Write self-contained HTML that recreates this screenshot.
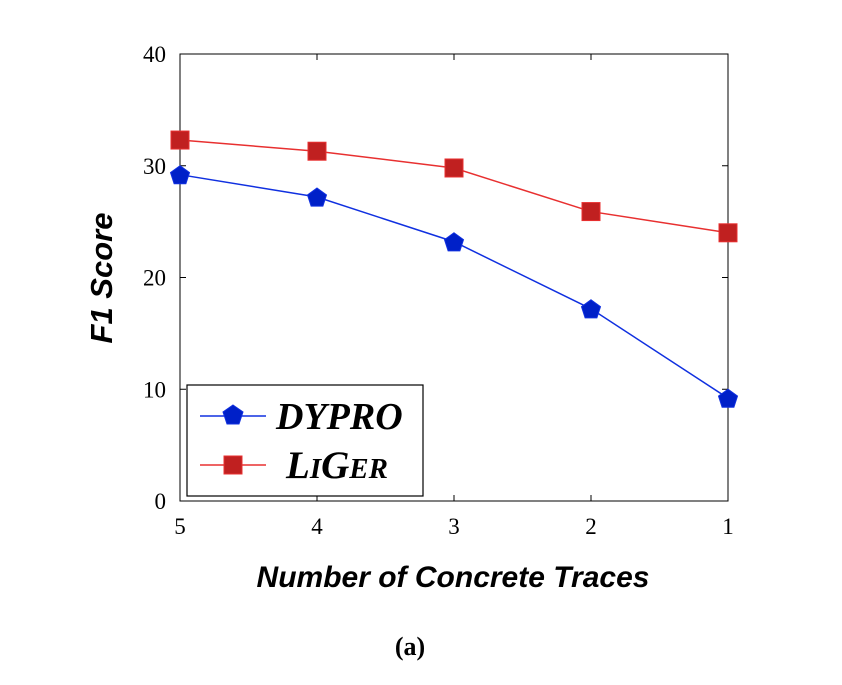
<!DOCTYPE html>
<html><head><meta charset="utf-8"><style>
body{margin:0;background:#fff;width:842px;height:680px;overflow:hidden}
text{font-family:"Liberation Serif",serif}
</style></head><body>
<svg width="842" height="680" id="chart">
<rect x="180" y="54" width="548" height="447" fill="none" stroke="#000" stroke-width="1"/>
<g id="grid"></g>
<g id="ticks"></g>
<g id="series"></g>
<text x="112" y="278" transform="rotate(-90 112 278)" text-anchor="middle" font-size="31" font-weight="bold" font-style="italic" style="font-family:'Liberation Sans',sans-serif">F1 Score</text>
<text x="453" y="587" text-anchor="middle" font-size="30" font-weight="bold" font-style="italic" style="font-family:'Liberation Sans',sans-serif">Number of Concrete Traces</text>
<text x="410" y="655" text-anchor="middle" font-size="26" font-weight="bold">(a)</text>
<g>
<rect x="187" y="385" width="236" height="111" fill="#fff" stroke="#000" stroke-width="1.2"/>
<line x1="200" y1="416" x2="266" y2="416" stroke="#1030e0" stroke-width="1.5"/>
<polygon points="233,405 243,412 239,424 227,424 223,412" fill="#0020c8" stroke="#1030e0"/>
<text x="276" y="429" font-size="38" font-weight="bold" font-style="italic">DYPRO</text>
<line x1="200" y1="465" x2="266" y2="465" stroke="#e83030" stroke-width="1.5"/>
<rect x="224" y="456" width="18" height="18" fill="#c02020" stroke="#e83030"/>
<text x="286" y="478" font-size="39" font-weight="bold" font-style="italic">L<tspan font-size="29">I</tspan>G<tspan font-size="29">ER</tspan></text>
</g>
</svg>
<script>
const categories=["5","4","3","2","1"];
const dypro=[29.2,27.2,23.2,17.2,9.2];
const liger=[32.3,31.3,29.8,25.9,24.0];
const yTicks=[0,10,20,30,40];
const NS="http://www.w3.org/2000/svg";
const x=i=>180+i*(548/(categories.length-1));
const y=v=>501-v*(447/40);
function mk(t,a,p){const e=document.createElementNS(NS,t);for(const k in a)e.setAttribute(k,a[k]);p.appendChild(e);return e;}
const grid=document.getElementById('grid'),ticks=document.getElementById('ticks'),ser=document.getElementById('series');
yTicks.forEach(v=>{
 const l=mk('line',{x1:180,x2:186,y1:y(v),y2:y(v),stroke:'#000'},ticks);
 
 
 mk('line',{x1:722,x2:728,y1:y(v),y2:y(v),stroke:'#000'},ticks);
 const t=mk('text',{x:166,y:y(v)+8,'text-anchor':'end','font-size':23},ticks);t.textContent=v;
 
 
});
categories.forEach((c,i)=>{
 mk('line',{x1:x(i),x2:x(i),y1:501,y2:495,stroke:'#000'},ticks);
 mk('line',{x1:x(i),x2:x(i),y1:54,y2:60,stroke:'#000'},ticks);
 const t=mk('text',{x:x(i),y:534,'text-anchor':'middle','font-size':23},ticks);t.textContent=c;
 
 
});
function line(vals,col,name){
 const p=mk('polyline',{points:vals.map((v,i)=>x(i)+','+y(v)).join(' '),fill:'none',stroke:col,'stroke-width':1.5},ser);
 
 
}
line(liger,'#e83030','liger');
line(dypro,'#1030e0','dypro');
liger.forEach((v,i)=>{
 const r=mk('rect',{x:x(i)-9,y:y(v)-9,width:18,height:18,fill:'#c02020',stroke:'#e83030'},ser);
 
 
});
dypro.forEach((v,i)=>{
 const cx=x(i),cy=y(v)+1;
 const pts=[0,1,2,3,4].map(k=>{const a=-Math.PI/2+k*2*Math.PI/5;return (cx+10*Math.cos(a))+','+(cy+10*Math.sin(a));}).join(' ');
 const p=mk('polygon',{points:pts,fill:'#0020c8',stroke:'#1030e0'},ser);
 
 
});
</script>
</body></html>
